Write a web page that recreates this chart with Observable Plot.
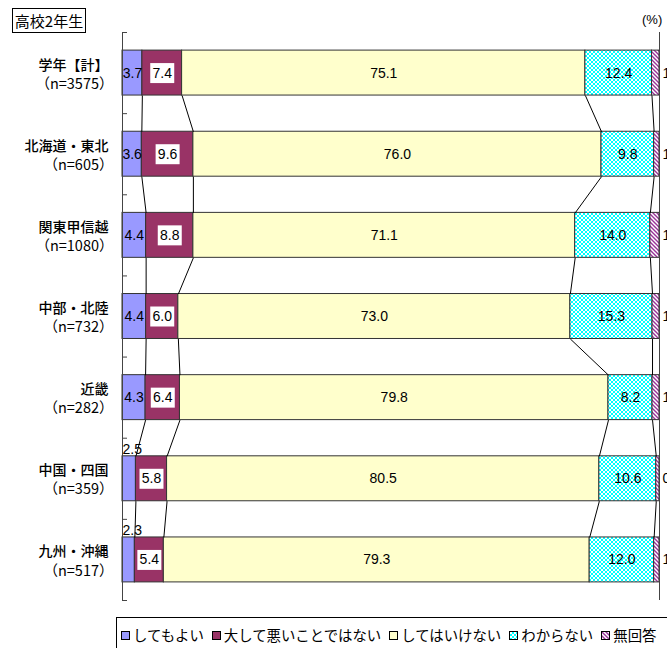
<!DOCTYPE html>
<html><head><meta charset="utf-8">
<script src="https://cdn.jsdelivr.net/npm/d3@7"></script>
<script src="https://cdn.jsdelivr.net/npm/@observablehq/plot@0.6"></script>
<style>
html,body{margin:0;padding:0;overflow:hidden;background:#fff;}
body{width:667px;height:648px;position:relative;font-family:"Noto Sans CJK JP",sans-serif;color:#000;}
#chart{position:absolute;left:0;top:0;}
#title{position:absolute;left:12px;top:8px;width:74px;height:25px;border:1px solid #000;font-size:15px;line-height:24px;text-align:center;box-sizing:border-box;}
#pct{position:absolute;left:642px;top:12px;font-size:13px;font-family:"Liberation Sans",sans-serif;}
#legend{position:absolute;left:116px;top:617px;width:600px;height:40px;border:1px solid #000;box-sizing:border-box;display:flex;align-items:flex-start;padding:9px 0 0 4px;font-size:14.4px;line-height:16px;white-space:nowrap;}
#legend .item{display:flex;align-items:center;margin-right:8px;}
#legend svg{margin-right:3px;}
</style></head>
<body>
<div id="chart"></div>
<div id="title">高校2年生</div>
<div id="pct">(%)</div>
<div id="legend"></div>
<script>
const categories = ["学年【計】","北海道・東北","関東甲信越","中部・北陸","近畿","中国・四国","九州・沖縄"];
const sampleSizes = ["（n=3575）","（n=605）","（n=1080）","（n=732）","（n=282）","（n=359）","（n=517）"];
const seriesNames = ["してもよい","大して悪いことではない","してはいけない","わからない","無回答"];
const okValues      = [3.7, 3.6, 4.4, 4.4, 4.3, 2.5, 2.3];
const notBadValues  = [7.4, 9.6, 8.8, 6.0, 6.4, 5.8, 5.4];
const mustNotValues = [75.1, 76.0, 71.1, 73.0, 79.8, 80.5, 79.3];
const unknownValues = [12.4, 9.8, 14.0, 15.3, 8.2, 10.6, 12.0];
const noAnswerValues= [1.4, 1.0, 1.7, 1.3, 1.3, 0.6, 1.0];

const seriesValues = [okValues, notBadValues, mustNotValues, unknownValues, noAnswerValues];
const seriesFills = ["#9999ff", "#993366", "#ffffcc", "url(#cyanPat)", "url(#hatchPat)"];

const table = [];
categories.forEach((c, row) => {
  let acc = 0;
  seriesValues.forEach((vals, s) => {
    const v = vals[row];
    table.push({row, cat: c, s, value: v, x1: acc, x2: acc + v, mid: acc + v / 2});
    acc += v;
  });
});
const H = 0.277;
const links = [];
for (let row = 0; row < categories.length - 1; row++) {
  for (let s = 0; s < 4; s++) {
    const a = table.find(d => d.row === row && d.s === s);
    const b = table.find(d => d.row === row + 1 && d.s === s);
    links.push({xa: a.x2, xb: b.x2, ya: row + H, yb: row + 1 - H});
  }
}
const boundaries = d3.range(-0.5, categories.length, 1);
const catRows = categories.map((c, i) => ({row: i, cat: c, n: sampleSizes[i]}));

const boxSymbol = {draw(ctx) { ctx.rect(-12, -10, 24, 20); }};
const numFont = "Liberation Sans, Arial, sans-serif";
const NS = 14;

const marks = [];
seriesFills.forEach((f, s) => {
  marks.push(Plot.rectX(table.filter(d => d.s === s), {
    x1: "x1", x2: "x2", y1: d => d.row - H, y2: d => d.row + H,
    fill: f, stroke: "#333", strokeWidth: 1
  }));
});
marks.push(Plot.link(links, {x1: "xa", x2: "xb", y1: "ya", y2: "yb", stroke: "#000", strokeWidth: 1}));
marks.push(Plot.ruleX([0], {y1: -0.5, y2: categories.length - 0.5, stroke: "#444"}));
marks.push(Plot.ruleX([100], {y1: -0.5, y2: categories.length - 0.5, stroke: "#444"}));
marks.push(Plot.axisY(boundaries, {anchor: "left", tickSize: 5, dx: 5, tickFormat: () => "", stroke: "#444"}));
marks.push(Plot.text(table.filter(d => d.s === 0 && d.value >= 3), {x: "mid", y: "row", text: d => d.value.toFixed(1), fontFamily: numFont, fontSize: NS, fill: "#000"}));
marks.push(Plot.text(table.filter(d => d.s === 0 && d.value < 3), {x: "x1", y: "row", dx: 0, dy: -29, textAnchor: "start", text: d => d.value.toFixed(1), fontFamily: numFont, fontSize: NS, fill: "#000"}));
marks.push(Plot.dot(table.filter(d => d.s === 1), {x: "mid", y: "row", symbol: boxSymbol, fill: "#fff", stroke: null}));
marks.push(Plot.text(table.filter(d => d.s === 1), {x: "mid", y: "row", text: d => d.value.toFixed(1), fontFamily: numFont, fontSize: NS, fill: "#000"}));
marks.push(Plot.text(table.filter(d => d.s === 2 || d.s === 3), {x: "mid", y: "row", text: d => d.value.toFixed(1), fontFamily: numFont, fontSize: NS, fill: "#000"}));
marks.push(Plot.text(table.filter(d => d.s === 4), {x: "x2", y: "row", dx: 3, textAnchor: "start", text: d => d.value.toFixed(1), fontFamily: numFont, fontSize: NS, fill: "#000"}));
marks.push(Plot.text(catRows, {x: 0, y: "row", dx: -14, dy: -8, textAnchor: "end", text: "cat", fontSize: 14, fontWeight: 500, fontFamily: "Noto Sans CJK JP", fill: "#000"}));
marks.push(Plot.text(catRows, {x: 0, y: "row", dx: -9, dy: 11, textAnchor: "end", text: "n", fontSize: 14.5, fontFamily: "Noto Sans CJK JP", fill: "#000"}));

const chart = Plot.plot({
  width: 667, height: 612,
  marginLeft: 122, marginRight: 8, marginTop: 32, marginBottom: 12,
  x: {domain: [0, 100], axis: null},
  y: {domain: [-0.5, categories.length - 0.5], range: [32, 600], axis: null},
  style: {background: "transparent", overflow: "hidden"},
  marks
});
const defs = `<defs>
<pattern id="cyanPat" patternUnits="userSpaceOnUse" width="4" height="4">
<rect width="4" height="4" fill="#00ffff"/>
<path d="M0,0L4,4M4,0L0,4" stroke="#ffffff" stroke-width="1"/>
</pattern>
<pattern id="hatchPat" patternUnits="userSpaceOnUse" width="4" height="4">
<rect width="4" height="4" fill="#ffffff"/>
<path d="M-1,-1L5,5M-1,3L1,5M3,-1L5,1" stroke="#993399" stroke-width="1.4"/>
</pattern></defs>`;
chart.insertAdjacentHTML("afterbegin", defs);
document.getElementById("chart").appendChild(chart);

const legend = document.getElementById("legend");
seriesNames.forEach((name, s) => {
  const item = document.createElement("div");
  item.className = "item";
  item.innerHTML = `<svg width="9" height="9"><rect x="0.5" y="0.5" width="8" height="8" fill="${seriesFills[s]}" stroke="#000" stroke-width="1"/></svg><span>${name}</span>`;
  legend.appendChild(item);
});
</script>
</body></html>
